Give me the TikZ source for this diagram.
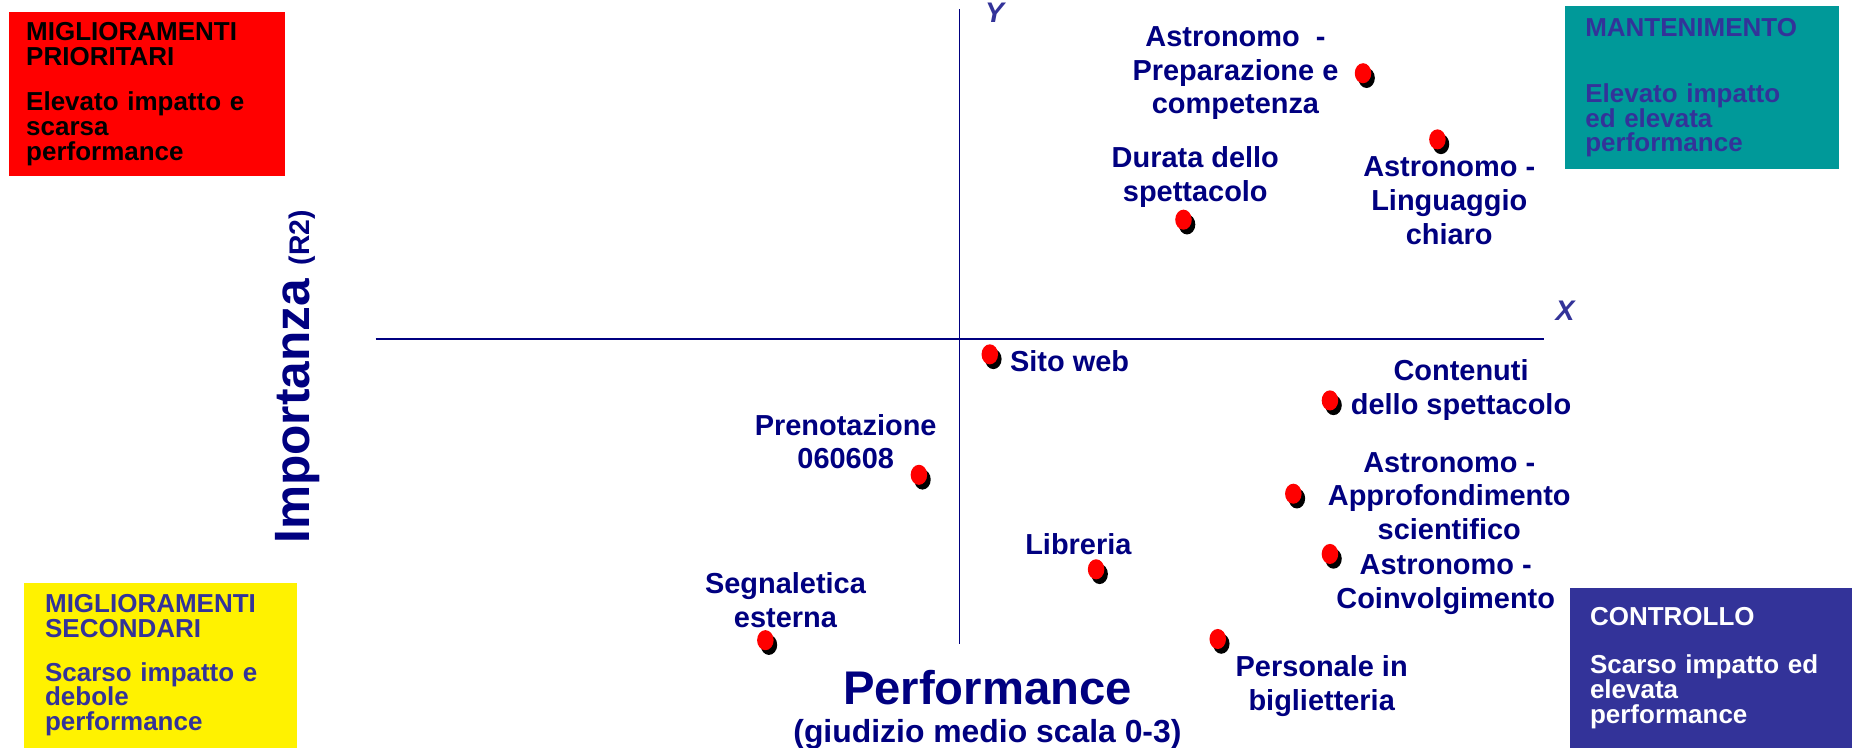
\documentclass[tikz,border=0pt]{standalone}
\usepackage{fontspec}
\setmainfont{Liberation Sans}
\usetikzlibrary{shapes.geometric,shadows}
\definecolor{navy}{RGB}{0,0,128}
\definecolor{ardesia}{RGB}{51,51,153}
\definecolor{ottanio}{RGB}{0,153,153}
\begin{document}
\begin{tikzpicture}[x=1pt,y=-1pt,
  lbl/.style={text=navy,align=center,inner sep=0pt,font=\fontsize{24.5}{28.5}\selectfont\bfseries},
  punto/.style={ellipse,fill=red,inner sep=0pt,minimum width=14pt,minimum height=17pt,
    drop shadow={shadow xshift=3pt,shadow yshift=-4pt,fill=black,opacity=1}},
  quad/.style={anchor=north west,inner ysep=0pt,align=left,font=\fontsize{22}{21}\selectfont\bfseries},
  asse/.style={draw=navy,line width=0.9pt}]
\useasboundingbox (0,0) rectangle (1568,633);
\node[quad,fill=red,text=black,inner xsep=15pt,text width=204pt,minimum height=139pt] (prio) at (7,10)
  {MIGLIORAMENTI\\PRIORITARI\\[17pt]Elevato impatto e\\scarsa\\performance};
\node[quad,fill=ottanio,text=ardesia,inner xsep=17pt,text width=198pt,minimum height=138pt] (mant) at (1325,5)
  {MANTENIMENTO\\[35pt]Elevato impatto\\ed elevata\\performance};
\node[quad,fill=yellow,text=ardesia,inner xsep=18pt,text width=195pt,minimum height=140pt] (sec) at (20,493)
  {MIGLIORAMENTI\\SECONDARI\\[16pt]Scarso impatto e\\debole\\performance};
\node[quad,fill=ardesia,text=white,inner xsep=17pt,text width=205pt,minimum height=135pt] (ctrl) at (1329,498)
  {CONTROLLO\\[20pt]Scarso impatto ed\\elevata\\performance};
\coordinate (ysu) at (812,8);
\coordinate (ygiu) at (812,545);
\coordinate (xsx) at (318,287);
\coordinate (xdx) at (1307,287);
\draw[asse] (ysu) -- (ygiu);
\draw[asse] (xsx) -- (xdx);
\node[text=ardesia,font=\fontsize{24}{24}\selectfont\bfseries\itshape] (ylab) at (842,11) {Y};
\node[text=ardesia,font=\fontsize{24}{24}\selectfont\bfseries\itshape] (xlab) at (1325,263) {X};
\node[rotate=90,text=navy,inner sep=0pt,font=\bfseries] (imp) at (252,319)
  {\fontsize{42}{42}\selectfont Importanza \fontsize{24}{24}\selectfont(R2)};
\node[text=navy,inner sep=0pt,font=\fontsize{40}{40}\selectfont\bfseries] (perf) at (836,582) {Performance};
\node[text=navy,inner sep=0pt,font=\fontsize{27}{27}\selectfont\bfseries] (giud) at (836,622) {(giudizio medio scala 0-3)};
\node[punto] (prep) at (1154,62) {};
\node[punto] (ling) at (1217,118) {};
\node[punto] (dur) at (1002,186) {};
\node[punto] (sito) at (838,300) {};
\node[punto] (cont) at (1126,339) {};
\node[punto] (pren) at (778,402) {};
\node[punto] (appr) at (1095,418) {};
\node[punto] (coinv) at (1126,469) {};
\node[punto] (libr) at (928,482) {};
\node[punto] (segn) at (648,542) {};
\node[punto] (pers) at (1031,541) {};
\node[lbl] (prepl) at (1046,62) {Astronomo\ \ -\\Preparazione e\\competenza};
\node[lbl] (lingl) at (1227,170) {Astronomo -\\Linguaggio\\chiaro};
\node[lbl] (durl) at (1012,150) {Durata dello\\spettacolo};
\node[lbl,anchor=west] (sitol) at (855,306) {Sito web};
\node[lbl] (contl) at (1237,330) {Contenuti\\dello spettacolo};
\node[lbl] (prenl) at (716,374) {Prenotazione\\060608};
\node[lbl] (apprl) at (1227,420) {Astronomo -\\Approfondimento\\scientifico};
\node[lbl] (coinvl) at (1224,495) {Astronomo -\\Coinvolgimento};
\node[lbl] (librl) at (913,461) {Libreria};
\node[lbl] (segnl) at (665,508) {Segnaletica\\esterna};
\node[lbl] (persl) at (1119,581) {Personale in\\biglietteria};
\end{tikzpicture}
\end{document}
